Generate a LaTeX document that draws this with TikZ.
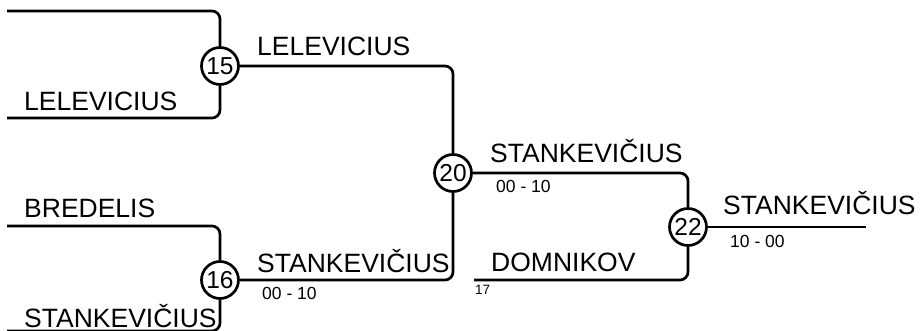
\documentclass[tikz,border=0pt]{standalone}
\usepackage{fontspec}
\setmainfont{Liberation Sans}

\begin{document}
\begin{tikzpicture}[
			x=1pt, y=-1pt,
			match/.style={draw, circle, line width=2.7pt, inner sep=0pt, minimum size=37pt, fill=white, font=\fontsize{24.5}{24.5}\selectfont},
			wire/.style={line width=2.7pt, rounded corners=8pt},
			player/.style={anchor=base west, inner sep=0pt, font=\fontsize{26.5}{26.5}\selectfont},
			score/.style={anchor=base west, inner sep=0pt, font=\fontsize{17.5}{17.5}\selectfont},
			seed/.style={anchor=base west, inner sep=0pt, font=\fontsize{13.5}{13.5}\selectfont}
		]
		\useasboundingbox (0,0) rectangle (920,331);

		\node[match] (m15) at (220,66) {15};
		\node[match] (m16) at (220,280) {16};
		\node[match] (m20) at (453,173) {20};
		\node[match] (m22) at (688,227) {22};

		\coordinate (in1) at (7,11);
		\coordinate (in2) at (7,118);
		\coordinate (in3) at (7,226);
		\coordinate (in4) at (7,331);
		\coordinate (in5) at (474,280);
		\coordinate (out) at (866,227);

		\draw[wire] (in1) -| (m15.north);
		\draw[wire] (in2) -| (m15.south);
		\draw[wire] (in3) -| (m16.north);
		\draw[wire] (in4) -| (m16.south);
		\draw[wire] (m15.east) -| (m20.north);
		\draw[wire] (m16.east) -| (m20.south);
		\draw[wire] (m20.east) -| (m22.north);
		\draw[wire] (in5) -| (m22.south);
		\draw[wire] (m22.east) -- (out);

		\node[player] (lel1) at (24,111) {LELEVICIUS};
		\node[player] (bre) at (24,217) {BREDELIS};
		\node[player] (sta1) at (24,327) {STANKEVIČIUS};
		\node[player] (lel2) at (257,56) {LELEVICIUS};
		\node[player] (sta2) at (257,272) {STANKEVIČIUS};
		\node[score] (sc16) at (262,299) {00 - 10};
		\node[player] (sta3) at (490,163) {STANKEVIČIUS};
		\node[score] (sc20) at (496,193) {00 - 10};
		\node[player] (dom) at (491,271) {DOMNIKOV};
		\node[seed] (s17) at (475,294) {17};
		\node[player] (sta4) at (723,214) {STANKEVIČIUS};
		\node[score] (sc22) at (730,247) {10 - 00};
	\end{tikzpicture}
\end{document}
